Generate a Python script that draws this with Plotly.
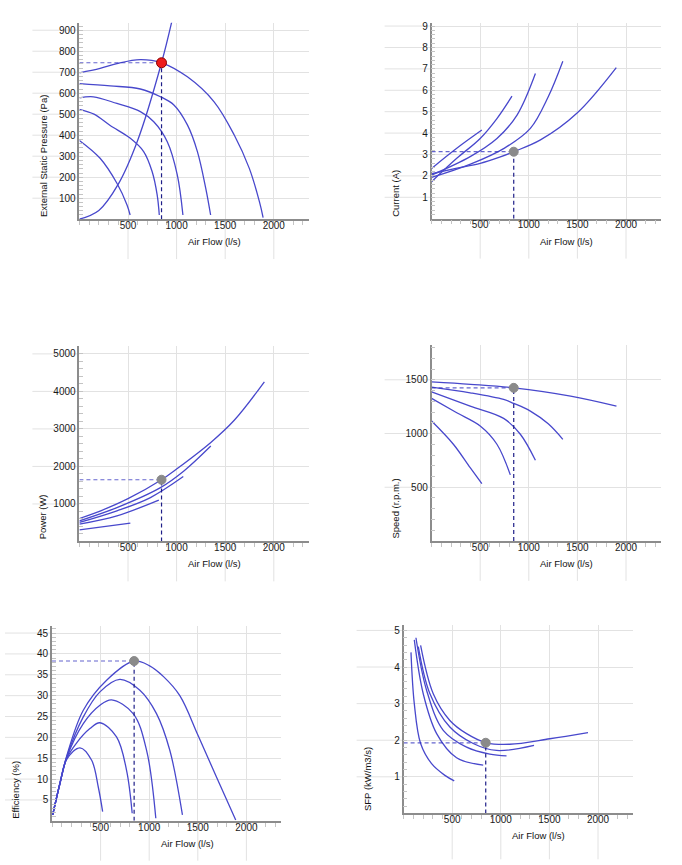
import plotly.graph_objects as go

W, H = 682, 865

# ---------------- data ----------------
flow_ticks = [500, 1000, 1500, 2000]
flow_max = 2360

op_flow = 845
op_pressure = 745
op_current = 3.13
op_power = 1645
op_speed = 1425
op_efficiency = 38.3
op_sfp = 1.93

pressure_flow = [
    [0, 213, 386, 627, 845, 1111, 1386, 1593, 1748, 1852, 1890],
    [0, 317, 627, 834, 972, 1111, 1214, 1300, 1350],
    [0, 144, 386, 627, 765, 904, 1007, 1065],
    [0, 150, 317, 524, 661, 748, 800, 822],
    [0, 213, 386, 490, 522],
]
pressure_vals = [
    [697, 718, 741, 760, 745, 678, 559, 401, 242, 84, 8],
    [646, 635, 620, 583, 544, 449, 322, 147, 20],
    [578, 583, 551, 512, 464, 369, 211, 20],
    [523, 500, 446, 385, 322, 227, 116, 20],
    [375, 290, 171, 68, 20],
]
system_flow = [0, 200, 400, 600, 845, 960]
system_pressure = [0, 42, 167, 376, 745, 960]

current_flow = [
    [0, 250, 500, 700, 845, 1120, 1500, 1900],
    [0, 400, 750, 1016, 1200, 1350],
    [0, 397, 672, 879, 1068],
    [0, 259, 500, 672, 827],
    [0, 259, 517],
]
current_vals = [
    [2.1, 2.35, 2.59, 2.88, 3.13, 3.68, 4.95, 7.06],
    [1.93, 2.55, 3.3, 4.22, 5.7, 7.36],
    [2.04, 2.9, 3.75, 4.84, 6.78],
    [1.73, 2.82, 3.75, 4.68, 5.73],
    [2.35, 3.29, 4.14],
]

power_flow = [
    [0, 213, 500, 845, 1000, 1352, 1593, 1903],
    [0, 386, 834, 1075, 1352],
    [0, 386, 731, 1069],
    [0, 386, 817],
    [0, 524],
]
power_vals = [
    [612, 810, 1140, 1645, 1930, 2640, 3230, 4255],
    [550, 904, 1436, 1880, 2545],
    [506, 816, 1170, 1729],
    [462, 683, 1101],
    [311, 489],
]

speed_flow = [
    [0, 400, 845, 1430, 1902],
    [0, 397, 741, 845, 1016, 1200, 1350],
    [0, 397, 741, 913, 1068],
    [0, 259, 500, 672, 810],
    [0, 224, 397, 517],
]
speed_vals = [
    [1481, 1458, 1425, 1348, 1255],
    [1432, 1379, 1317, 1280, 1209, 1090, 946],
    [1388, 1255, 1141, 993, 751],
    [1327, 1193, 1070, 900, 615],
    [1116, 900, 682, 534],
]

eff_flow = [
    [7, 82, 151, 322, 562, 845, 1000, 1150, 1315, 1502, 1692, 1890],
    [7, 82, 151, 322, 493, 698, 904, 1075, 1212, 1342],
    [7, 82, 151, 322, 493, 613, 835, 973, 1068],
    [7, 82, 151, 254, 390, 493, 664, 767, 825],
    [7, 82, 151, 288, 408, 476, 521],
]
eff_vals = [
    [1.4, 9.0, 15.5, 26.5, 33.7, 38.3, 37.2, 34.5, 30.0, 20.5, 10.5, 0.2],
    [1.4, 9.0, 15.3, 24.9, 30.9, 33.9, 31.3, 25.7, 16.9, 1.4],
    [1.4, 9.0, 15.1, 23.3, 27.7, 29.0, 25.7, 16.9, 0.6],
    [1.4, 9.0, 14.9, 18.7, 22.1, 23.5, 20.1, 12.1, 1.8],
    [1.4, 9.0, 14.7, 17.5, 14.5, 8.1, 2.2],
]

sfp_flow = [
    [175, 305, 476, 648, 853, 1093, 1504, 1897],
    [151, 271, 476, 716, 956, 1342],
    [127, 237, 408, 648, 887, 1059],
    [110, 202, 340, 545, 819],
    [76, 110, 175, 288, 425, 521],
]
sfp_vals = [
    [4.59, 3.27, 2.54, 2.18, 1.93, 1.89, 2.04, 2.21],
    [4.56, 3.27, 2.36, 1.91, 1.72, 1.86],
    [4.8, 3.36, 2.27, 1.81, 1.62, 1.57],
    [4.74, 3.27, 2.18, 1.52, 1.32],
    [4.40, 3.0, 1.91, 1.36, 1.04, 0.89],
]

pressure_ticks = [100, 200, 300, 400, 500, 600, 700, 800, 900]
current_ticks = [1, 2, 3, 4, 5, 6, 7, 8, 9]
power_ticks = [1000, 2000, 3000, 4000, 5000]
speed_ticks = [500, 1000, 1500]
eff_ticks = [5, 10, 15, 20, 25, 30, 35, 40, 45]
sfp_ticks = [1, 2, 3, 4, 5]

x_title = "Air Flow (l/s)"

# ---------------- styling / layout ----------------
LINE = "#4848cc"
GRID = "#e2e2e2"
AXIS = "#8c8c8c"
MINOR = "#c4c4c4"
FONT = "Arial, Liberation Sans, sans-serif"
PX_PER_FLOW = 48.6 / 500.0
PLOT_W = flow_max * PX_PER_FLOW
SMOOTH = 1.0

panels = [
    dict(fx=pressure_flow, fy=pressure_vals, op=op_pressure, title="External Static Pressure (Pa)",
         ticks=pressure_ticks, ymax=936, minor=20, x0=79.4, top=20.7, bottom=217.7,
         mcolor="#ee1c1c", mline="#8a0000", msize=10),
    dict(fx=current_flow, fy=current_vals, op=op_current, title="Current (A)",
         ticks=current_ticks, ymax=9.16, minor=0.2, x0=431.6, top=20.7, bottom=217.2,
         mcolor="#8a8a8a", mline="#8a8a8a", msize=9),
    dict(fx=power_flow, fy=power_vals, op=op_power, title="Power (W)",
         ticks=power_ticks, ymax=5205, minor=200, x0=79.4, top=345, bottom=540.7,
         mcolor="#8a8a8a", mline="#8a8a8a", msize=9),
    dict(fx=speed_flow, fy=speed_vals, op=op_speed, title="Speed (r.p.m.)",
         ticks=speed_ticks, ymax=1822, minor=100, x0=431.6, top=344, bottom=540.2,
         mcolor="#8a8a8a", mline="#8a8a8a", msize=9),
    dict(fx=eff_flow, fy=eff_vals, op=op_efficiency, title="Efficiency (%)",
         ticks=eff_ticks, ymax=46.8, minor=1, x0=52, top=625, bottom=820.7,
         mcolor="#8a8a8a", mline="#8a8a8a", msize=9),
    dict(fx=sfp_flow, fy=sfp_vals, op=op_sfp, title="SFP (kW/m3/s)",
         ticks=sfp_ticks, ymax=5.16, minor=0.2, x0=403.6, top=624, bottom=813.3,
         mcolor="#8a8a8a", mline="#8a8a8a", msize=9),
]

fig = go.Figure()
shapes = []
annotations = []
layout = dict(
    width=W, height=H, margin=dict(l=0, r=0, t=0, b=0),
    paper_bgcolor="white", plot_bgcolor="white", showlegend=False,
    hovermode=False, font=dict(family=FONT, size=10, color="#222"),
)

for i, p in enumerate(panels):
    n = i + 1
    xa = "x" if n == 1 else f"x{n}"
    ya = "y" if n == 1 else f"y{n}"
    xkey = "xaxis" if n == 1 else f"xaxis{n}"
    ykey = "yaxis" if n == 1 else f"yaxis{n}"
    h_px = p["bottom"] - p["top"]

    layout[xkey] = dict(
        domain=[p["x0"] / W, (p["x0"] + PLOT_W) / W], anchor=ya,
        range=[0, flow_max], tickmode="array", tickvals=flow_ticks,
        showgrid=True, gridcolor=GRID, gridwidth=1, zeroline=False,
        showline=True, linecolor=AXIS, linewidth=1.6,
        ticks="outside", ticklen=4, tickcolor=MINOR, ticklabelstandoff=-8,
        minor=dict(ticks="outside", ticklen=4, tickcolor=MINOR, dtick=100, tick0=0, showgrid=False),
        tickfont=dict(family=FONT, size=10, color="#1a1a1a"),
        fixedrange=True,
    )
    layout[ykey] = dict(
        domain=[1 - p["bottom"] / H, 1 - p["top"] / H], anchor=xa,
        range=[0, p["ymax"]], tickmode="array", tickvals=p["ticks"],
        showgrid=True, gridcolor=GRID, gridwidth=1, zeroline=False,
        showline=True, linecolor=AXIS, linewidth=1.6,
        ticks="inside", ticklen=4, tickcolor=MINOR,
        minor=dict(ticks="inside", ticklen=4, tickcolor=MINOR, dtick=p["minor"], tick0=0, showgrid=False),
        tickfont=dict(family=FONT, size=10, color="#1a1a1a"),
        fixedrange=True,
    )

    # grid-line extensions beyond the axes
    for v in p["ticks"]:
        shapes.append(dict(type="line", layer="below", xref=f"{xa} domain", yref=ya,
                           x0=-47 / PLOT_W, x1=0, y0=v, y1=v, line=dict(color=GRID, width=1)))
    ext = 46 if n == 6 else 40
    for v in flow_ticks:
        shapes.append(dict(type="line", layer="below", xref=xa, yref=f"{ya} domain",
                           x0=v, x1=v, y0=-ext / h_px, y1=0, line=dict(color=GRID, width=1)))

    # curves
    for fx, fy in zip(p["fx"], p["fy"]):
        fig.add_trace(go.Scatter(x=fx, y=fy, mode="lines", xaxis=xa, yaxis=ya,
                                 line=dict(color=LINE, width=1.3, shape="spline", smoothing=SMOOTH)))
    if n == 1:
        fig.add_trace(go.Scatter(x=system_flow, y=system_pressure, mode="lines", xaxis=xa, yaxis=ya,
                                 line=dict(color=LINE, width=1.3, shape="spline", smoothing=SMOOTH)))

    # operating point guides
    fig.add_trace(go.Scatter(x=[0, op_flow], y=[p["op"], p["op"]], mode="lines", xaxis=xa, yaxis=ya,
                             line=dict(color="rgba(50,50,190,0.75)", width=1.2, dash="4px,3px")))
    fig.add_trace(go.Scatter(x=[op_flow, op_flow], y=[0, p["op"]], mode="lines", xaxis=xa, yaxis=ya,
                             line=dict(color="#1e1e88", width=1.2, dash="4px,3px")))
    fig.add_trace(go.Scatter(x=[op_flow], y=[p["op"]], mode="markers", xaxis=xa, yaxis=ya,
                             marker=dict(color=p["mcolor"], size=p["msize"],
                                         line=dict(color=p["mline"], width=1))))

    # axis titles
    annotations.append(dict(text=p["title"], xref=f"{xa} domain", yref=f"{ya} domain",
                            x=-36 / PLOT_W, y=0, xanchor="center", yanchor="bottom",
                            textangle=-90, showarrow=False,
                            font=dict(family=FONT, size=9.5, color="#111")))
    annotations.append(dict(text=x_title, xref=f"{xa} domain", yref=f"{ya} domain",
                            x=135 / PLOT_W, y=-22.5 / h_px, xanchor="center", yanchor="middle",
                            showarrow=False, font=dict(family=FONT, size=9.5, color="#111")))

layout["shapes"] = shapes
layout["annotations"] = annotations
fig.update_layout(**layout)
fig.write_html("out.html")
